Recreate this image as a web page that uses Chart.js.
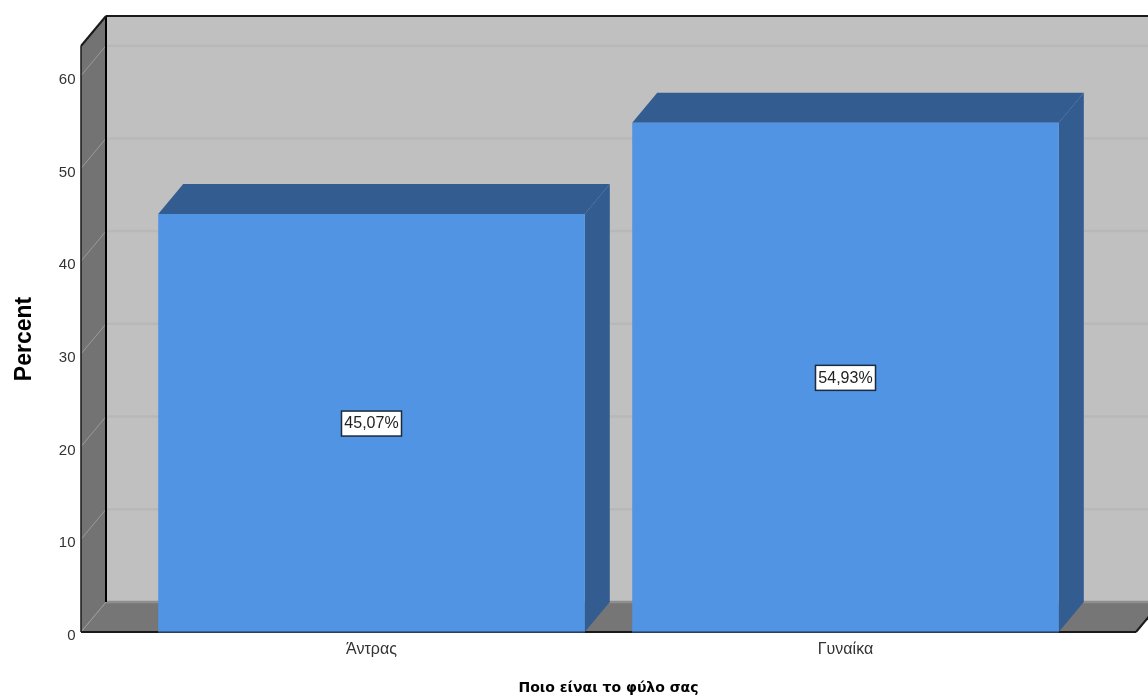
<!DOCTYPE html>
<html>
<head>
<meta charset="utf-8">
<script src="https://cdn.jsdelivr.net/npm/chart.js@4/dist/chart.umd.js"></script>
<style>
html, body { margin: 0; padding: 0; background: #fff; }
canvas { display: block; }
</style>
</head>
<body>
<canvas id="c" width="1148" height="695"></canvas>
<script>
var categories = ["Άντρας", "Γυναίκα"];
var percentValues = [45.07, 54.93];
var axisMax = 63.2;
var tickStep = 10;
var xTitle = "Ποιο είναι το φύλο σας";
var yTitle = "Percent";

// depth of the fake 3d box, and how far the floor runs past the category band
var dx = 25, dy = 30, wing = 53.5;

function poly(ctx, pts, fill) {
    ctx.beginPath();
    ctx.moveTo(pts[0][0], pts[0][1]);
    for (var i = 1; i < pts.length; i++) ctx.lineTo(pts[i][0], pts[i][1]);
    ctx.closePath();
    ctx.fillStyle = fill;
    ctx.fill();
}

function line(ctx, x1, y1, x2, y2, col, w) {
    ctx.beginPath();
    ctx.moveTo(x1, y1);
    ctx.lineTo(x2, y2);
    ctx.strokeStyle = col;
    ctx.lineWidth = w;
    ctx.stroke();
}

var box3d = {
    id: "box3d",
    beforeDatasetsDraw: function (ch) {
        var ctx = ch.ctx, a = ch.chartArea, ys = ch.scales.y;
        var l = a.left - wing, r = a.right + wing, t = a.top, b = a.bottom;
        ctx.save();
        poly(ctx, [[l + dx, t - dy], [1148, t - dy], [1148, b - dy], [l + dx, b - dy]], "#c0c0c0");
        poly(ctx, [[l, t], [l + dx, t - dy], [l + dx, b - dy], [l, b]], "#737373");
        poly(ctx, [[l, b], [l + dx, b - dy], [r + dx, b - dy], [r, b]], "#767676");
        ys.ticks.forEach(function (tk) {
            var y = ys.getPixelForValue(tk.value);
            line(ctx, l + dx, y - dy, 1148, y - dy, tk.value === 0 ? "#8e8e8e" : "#b8b8b8", 2.5);
            line(ctx, l, y, l + dx, y - dy, "#9a9a9a", 1);
        });
        line(ctx, l + dx, t - dy, 1148, t - dy, "#1a1a1a", 2);
        line(ctx, l + dx, t - dy, l + dx, b - dy, "#000", 2);
        line(ctx, l, t, l + dx, t - dy, "#1a1a1a", 2);
        line(ctx, l, t, l, b, "#1a1a1a", 1.5);
        line(ctx, l, b, r, b, "#1a1a1a", 2);
        line(ctx, r, b, r + dx, b - dy, "#1a1a1a", 2);

        ch.getDatasetMeta(0).data.forEach(function (bar) {
            var p = bar.getProps(["x", "y", "base", "width"], true);
            var x1 = p.x - p.width / 2, x2 = p.x + p.width / 2;
            poly(ctx, [[x1, p.y], [x1 + dx, p.y - dy], [x2 + dx, p.y - dy], [x2, p.y]], "#335c90");
            poly(ctx, [[x2, p.y], [x2 + dx, p.y - dy], [x2 + dx, p.base - dy], [x2, p.base]], "#335c90");
        });
        ctx.restore();
    },
    afterDatasetsDraw: function (ch) {
        var ctx = ch.ctx;
        ctx.save();
        ch.getDatasetMeta(0).data.forEach(function (bar, i) {
            var p = bar.getProps(["x", "y", "base", "width"], true);
            line(ctx, p.x - p.width / 2, p.base, p.x + p.width / 2, p.base, "#2f4f78", 1.5);
            var mid = (p.y + p.base) / 2;
            var txt = percentValues[i].toFixed(2).replace(".", ",") + "%";
            ctx.fillStyle = "#fff";
            ctx.strokeStyle = "#1c2a3a";
            ctx.lineWidth = 1.5;
            ctx.fillRect(p.x - 30, mid - 12, 60, 25);
            ctx.strokeRect(p.x - 30, mid - 12, 60, 25);
            ctx.fillStyle = "#222";
            ctx.font = "16px 'Liberation Sans'";
            ctx.textAlign = "center";
            ctx.textBaseline = "middle";
            ctx.fillText(txt, p.x, mid + 1);
        });
        ctx.restore();
    }
};

new Chart(document.getElementById("c"), {
    type: "bar",
    data: {
        labels: categories,
        datasets: [
            {
                label: yTitle,
                data: percentValues,
                backgroundColor: "#5294e4",
                borderWidth: 0,
                barPercentage: 0.9,
                categoryPercentage: 1
            }
        ]
    },
    plugins: [box3d],
    options: {
        responsive: false,
        animation: false,
        layout: { autoPadding: false, padding: { top: 46, right: 65.5, bottom: 0, left: 0 } },
        plugins: {
            legend: { display: false },
            tooltip: { enabled: false }
        },
        scales: {
            x: {
                grid: { display: false, drawTicks: false },
                border: { display: false },
                afterFit: function (s) { s.height = 63; },
                ticks: {
                    color: "#333",
                    padding: 8,
                    maxRotation: 0,
                    font: { family: "'Liberation Sans'", size: 16 }
                },
                title: {
                    display: true,
                    text: xTitle,
                    color: "#000",
                    padding: { top: 24, bottom: -2 },
                    font: { family: "'DejaVu Sans'", size: 14, weight: "bold" }
                }
            },
            y: {
                min: 0,
                max: axisMax,
                grid: { display: false, drawTicks: false },
                border: { display: false },
                // big tick padding pushes the labels left, but also inflates the vertical margins
                afterFit: function (s) {
                    s.width = 134.5;
                    s.paddingTop = 0;
                    s.paddingBottom = 0;
                },
                ticks: {
                    stepSize: tickStep,
                    includeBounds: false,
                    color: "#333",
                    padding: 59,
                    labelOffset: 4,
                    font: { family: "'Liberation Sans'", size: 15 }
                },
                title: {
                    display: true,
                    text: yTitle,
                    color: "#000",
                    padding: { top: 11, bottom: 0 },
                    font: { family: "'Liberation Sans'", size: 23, weight: "bold" }
                }
            }
        }
    }
});
</script>
</body>
</html>
